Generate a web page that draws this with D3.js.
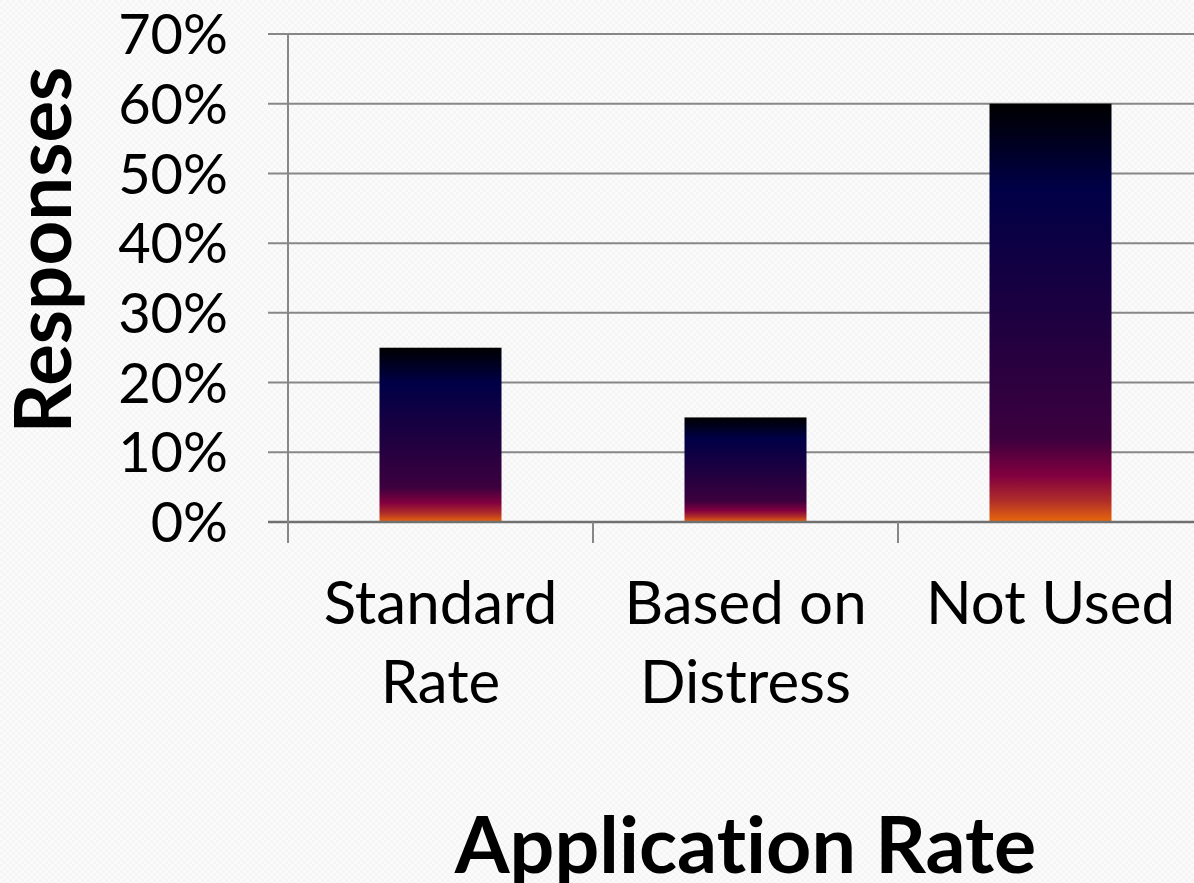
<!DOCTYPE html>
<html>
<head>
<meta charset="utf-8">
<script src="https://cdn.jsdelivr.net/npm/d3@7"></script>
<style>
  html, body { margin: 0; padding: 0; background: #fafafa; }
  svg { display: block; }
  text { font-variant-ligatures: none; font-feature-settings: "liga" 0, "clig" 0; }
</style>
</head>
<body>
<svg id="chart"></svg>
<script>
const categories = [['Standard', 'Rate'], ['Based on', 'Distress'], ['Not Used']];
const responses = [0.25, 0.15, 0.60];
const yTicks = [0, 0.1, 0.2, 0.3, 0.4, 0.5, 0.6, 0.7];
const yTitle = 'Responses';
const xTitle = 'Application Rate';

const width = 1194;
const height = 883;
const fontFamily = 'Lato, "Open Sans", sans-serif';

const svg = d3.select('#chart')
  .attr('width', width)
  .attr('height', height)
  .attr('viewBox', `0 0 ${width} ${height}`);

const defs = svg.append('defs');

// faint checker texture of the slide background
const pat = defs.append('pattern')
  .attr('id', 'bgtex')
  .attr('width', 6)
  .attr('height', 6)
  .attr('patternUnits', 'userSpaceOnUse');
pat.append('rect').attr('width', 6).attr('height', 6).attr('fill', '#fbfbfb');
pat.append('rect').attr('width', 3).attr('height', 3).attr('fill', '#f5f5f5');
pat.append('rect').attr('x', 3).attr('y', 3).attr('width', 3).attr('height', 3).attr('fill', '#f5f5f5');

svg.append('rect')
  .attr('width', width)
  .attr('height', height)
  .attr('fill', 'url(#bgtex)');

// sunset fill, black on top to orange at the base
const grad = defs.append('linearGradient')
  .attr('id', 'barFill')
  .attr('x1', 0).attr('y1', 0)
  .attr('x2', 0).attr('y2', 1);
[
  [0, '#000000'],
  [0.2, '#000046'],
  [0.5, '#1c0040'],
  [0.8, '#3c003e'],
  [0.89, '#82003f'],
  [0.95, '#b02e28'],
  [1, '#e8680c'],
].forEach(([o, c]) => grad.append('stop').attr('offset', o).attr('stop-color', c));

const plot = { left: 288, right: 1203, top: 34, bottom: 522 };

const y = d3.scaleLinear()
  .domain([0, 0.7])
  .range([plot.bottom, plot.top]);

const x = d3.scaleBand()
  .domain(d3.range(categories.length))
  .range([plot.left, plot.right])
  .paddingInner(0.6)
  .paddingOuter(0.3);

const step = x.step();
const axisColor = '#878787';

// gridlines + outside tick marks
svg.append('g')
  .selectAll('line')
  .data(yTicks)
  .join('line')
  .attr('x1', plot.left - 20)
  .attr('x2', width)
  .attr('y1', d => y(d))
  .attr('y2', d => y(d))
  .attr('stroke', axisColor)
  .attr('stroke-width', 2);

// bars
svg.append('g')
  .selectAll('rect')
  .data(responses)
  .join('rect')
  .attr('x', (d, i) => x(i))
  .attr('width', x.bandwidth())
  .attr('y', d => y(d))
  .attr('height', d => y(0) - y(d))
  .attr('fill', 'url(#barFill)');

// category axis: baseline and separators
svg.append('line')
  .attr('x1', plot.left - 20)
  .attr('x2', width)
  .attr('y1', y(0))
  .attr('y2', y(0))
  .attr('stroke', '#707070')
  .attr('stroke-width', 2.5);

const boundaries = d3.range(categories.length + 1).map(i => x(0) - x.paddingOuter() * step + i * step);
svg.append('g')
  .selectAll('line')
  .data(boundaries)
  .join('line')
  .attr('x1', d => d)
  .attr('x2', d => d)
  .attr('y1', d => (d === boundaries[0] ? plot.top : y(0)))
  .attr('y2', y(0) + 21)
  .attr('stroke', axisColor)
  .attr('stroke-width', 2);

// y tick labels
svg.append('g')
  .selectAll('text')
  .data(yTicks)
  .join('text')
  .attr('x', 228)
  .attr('y', d => y(d))
  .attr('dy', '0.36em')
  .attr('text-anchor', 'end')
  .attr('font-family', fontFamily)
  .attr('font-size', 56)
  .attr('fill', '#000')
  .text(d3.format('.0%'));

// category labels
const catG = svg.append('g')
  .selectAll('text')
  .data(categories)
  .join('text')
  .attr('text-anchor', 'middle')
  .attr('font-family', fontFamily)
  .attr('font-size', 60)
  .attr('fill', '#000');
catG.selectAll('tspan')
  .data((d, i) => d.map(line => ({ line, i })))
  .join('tspan')
  .attr('x', d => x(d.i) + x.bandwidth() / 2)
  .attr('y', (d, j) => 624 + j * 79)
  .text(d => d.line);

// axis titles
svg.append('text')
  .attr('transform', `translate(71, ${(plot.top + plot.bottom) / 2 - 28}) rotate(-90)`)
  .attr('text-anchor', 'middle')
  .attr('font-family', fontFamily)
  .attr('font-weight', 700)
  .attr('font-size', 78)
  .attr('fill', '#000')
  .text(yTitle);

svg.append('text')
  .attr('x', (plot.left + plot.right) / 2)
  .attr('y', 873)
  .attr('text-anchor', 'middle')
  .attr('font-family', fontFamily)
  .attr('font-weight', 700)
  .attr('font-size', 79)
  .attr('fill', '#000')
  .text(xTitle);
</script>
</body>
</html>
